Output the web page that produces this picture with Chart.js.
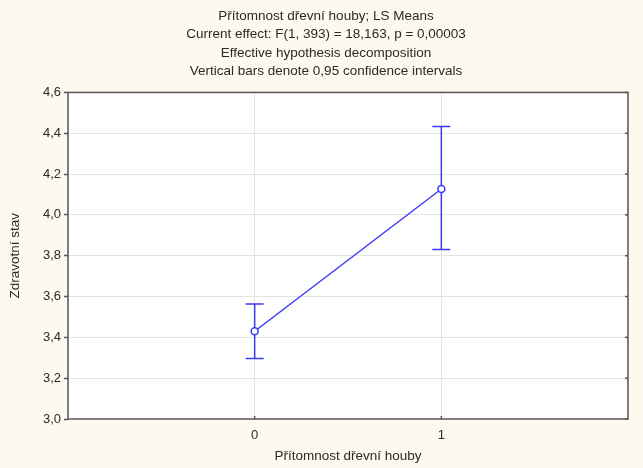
<!DOCTYPE html>
<html>
<head>
<meta charset="utf-8">
<script src="https://cdn.jsdelivr.net/npm/chart.js@4"></script>
<style>
  html, body { margin: 0; padding: 0; background: #fdf9ee; }
  #wrap { width: 643px; height: 468px; }
</style>
</head>
<body>
<div id="wrap"><canvas id="chart" width="643" height="468"></canvas></div>
<script>
const titleLines = [
    'Přítomnost dřevní houby; LS Means',
    'Current effect: F(1, 393) = 18,163, p = 0,00003',
    'Effective hypothesis decomposition',
    'Vertical bars denote 0,95 confidence intervals'
];
const categories = [0, 1];
const means = [3.43, 4.127];
const ciLower = [3.297, 3.83];
const ciUpper = [3.563, 4.433];
const yTicks = [3.0, 3.2, 3.4, 3.6, 3.8, 4.0, 4.2, 4.4, 4.6];

const blue = '#3b3bf5';
const textColor = '#2a2a2a';
const fontFamily = '"Liberation Sans", Arial, sans-serif';

// White plot area with a dark frame
const plotFrame = {
    id: 'plotFrame',
    beforeDraw(chart) {
        const { ctx, chartArea: a } = chart;
        ctx.save();
        ctx.fillStyle = '#ffffff';
        ctx.fillRect(a.left, a.top, a.right - a.left, a.bottom - a.top);
        ctx.restore();
    },
    afterDatasetsDraw(chart) {
        const { ctx, chartArea: a, scales } = chart;
        ctx.save();
        ctx.strokeStyle = '#555555';
        ctx.lineWidth = 1.5;
        ctx.strokeRect(a.left, a.top, a.right - a.left, a.bottom - a.top);
        // small ticks on the right side and bottom (inside)
        yTicks.forEach(v => {
            const y = scales.y.getPixelForValue(v);
            ctx.beginPath();
            ctx.moveTo(a.right - 3, y);
            ctx.lineTo(a.right, y);
            ctx.stroke();
        });
        categories.forEach(v => {
            const x = scales.x.getPixelForValue(v);
            ctx.beginPath();
            ctx.moveTo(x, a.bottom - 3);
            ctx.lineTo(x, a.bottom);
            ctx.stroke();
        });
        ctx.restore();
    }
};

// Confidence interval whiskers
const errorBars = {
    id: 'errorBars',
    beforeDatasetsDraw(chart) {
        const { ctx, scales } = chart;
        ctx.save();
        ctx.strokeStyle = blue;
        ctx.lineWidth = 1.5;
        categories.forEach((c, i) => {
            const x = scales.x.getPixelForValue(c);
            const yLo = scales.y.getPixelForValue(ciLower[i]);
            const yHi = scales.y.getPixelForValue(ciUpper[i]);
            ctx.beginPath();
            ctx.moveTo(x, yLo);
            ctx.lineTo(x, yHi);
            ctx.moveTo(x - 9, yLo);
            ctx.lineTo(x + 9, yLo);
            ctx.moveTo(x - 9, yHi);
            ctx.lineTo(x + 9, yHi);
            ctx.stroke();
        });
        ctx.restore();
    }
};

new Chart(document.getElementById('chart'), {
    type: 'scatter',
    data: {
        datasets: [{
            data: categories.map((c, i) => ({ x: c, y: means[i] })),
            showLine: true,
            borderColor: blue,
            borderWidth: 1.5,
            pointRadius: 3.5,
            pointBackgroundColor: '#ffffff',
            pointBorderColor: blue,
            pointBorderWidth: 1.5
        }]
    },
    options: {
        responsive: false,
        animation: false,
        // left padding chosen so the title centres where the reference has it
        layout: { padding: { left: 24, right: 15, top: 5, bottom: 4 } },
        plugins: {
            legend: { display: false },
            tooltip: { enabled: false },
            title: {
                display: true,
                text: titleLines,
                color: textColor,
                font: { family: fontFamily, size: 13.5, weight: 'normal', lineHeight: 1.36 },
                padding: { top: 2, bottom: 12 }
            }
        },
        scales: {
            x: {
                type: 'linear',
                min: -1,
                max: 2,
                afterBuildTicks: scale => {
                    scale.ticks = categories.map(v => ({ value: v }));
                },
                afterFit: scale => { scale.height = 45; },
                grid: {
                    color: '#e4e4e4',
                    drawTicks: false
                },
                border: { display: false },
                ticks: {
                    color: textColor,
                    font: { family: fontFamily, size: 13 },
                    padding: 9,
                    callback: v => String(v)
                },
                title: {
                    display: true,
                    text: 'Přítomnost dřevní houby',
                    color: textColor,
                    font: { family: fontFamily, size: 13.5 },
                    padding: { top: 3, bottom: 0 }
                }
            },
            y: {
                min: 3.0,
                max: 4.6,
                afterBuildTicks: scale => {
                    scale.ticks = yTicks.map(v => ({ value: v }));
                },
                afterFit: scale => { scale.width = 44; },
                grid: {
                    color: ctx => ctx.tick && ctx.tick.value > 3.0 && ctx.tick.value < 4.6 ? '#e4e4e4' : 'rgba(0,0,0,0)',
                    tickColor: '#555555',
                    tickLength: 4,
                    tickWidth: 1.5
                },
                border: { display: false },
                ticks: {
                    color: textColor,
                    font: { family: fontFamily, size: 13 },
                    padding: 3,
                    callback: v => v.toFixed(1).replace('.', ',')
                },
                title: {
                    display: true,
                    text: 'Zdravotní stav',
                    color: textColor,
                    font: { family: fontFamily, size: 13.5 },
                    padding: { top: -17, bottom: 4 }
                }
            }
        }
    },
    plugins: [plotFrame, errorBars]
});
</script>
</body>
</html>
